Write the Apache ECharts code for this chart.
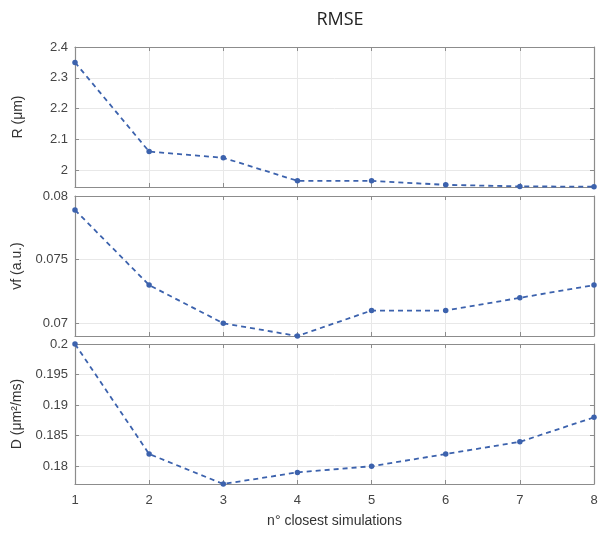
<!DOCTYPE html>
<html style="height: 100%">
<head>
	<meta charset="utf-8">
	<script src="https://cdn.jsdelivr.net/npm/echarts@6/dist/echarts.min.js"></script>
</head>
<body style="height: 100%; margin: 0; background: #fff">
<div id="container" style="width: 598px; height: 533px"></div>
<script type="text/javascript">
    var nClosest = [1, 2, 3, 4, 5, 6, 7, 8];
    var rmseR = [2.35, 2.06, 2.04, 1.965, 1.965, 1.952, 1.947, 1.946];
    var rmseVf = [0.0789, 0.073, 0.070, 0.0690, 0.071, 0.071, 0.072, 0.073];
    var rmseD = [0.2, 0.182, 0.1771, 0.179, 0.180, 0.182, 0.184, 0.188];
    var ticksR = [2, 2.1, 2.2, 2.3, 2.4];
    var ticksVf = [0.07, 0.075, 0.08];
    var ticksD = [0.18, 0.185, 0.19, 0.195, 0.2];

    var lineColor = '#3c62ad';
    var boxColor = '#8c8c8c';
    var textColor = '#444';

    var dom = document.getElementById("container");
    var myChart = echarts.init(dom);

    function pairs(ys) {
        return nClosest.map(function (x, i) { return [x, ys[i]]; });
    }

    var panels = [
        { name: 'R (μm)', data: rmseR, ticks: ticksR, min: 1.945, max: 2.4, top: 47 },
        { name: 'vf (a.u.)', data: rmseVf, ticks: ticksVf, min: 0.069, max: 0.08, top: 196 },
        { name: 'D (μm²/ms)', data: rmseD, ticks: ticksD, min: 0.1771, max: 0.2, top: 344 }
    ];

    var grid = [], xAxis = [], yAxis = [], series = [];
    panels.forEach(function (p, i) {
        var last = i === panels.length - 1;
        grid.push({ left: 75, right: 4, top: p.top, height: 140, outerBoundsMode: 'none', containLabel: false });
        // bottom x axis
        xAxis.push({
            gridIndex: i, type: 'value', min: 1, max: 8, interval: 1,
            position: 'bottom',
            name: last ? 'n° closest simulations' : '',
            nameLocation: 'middle', nameGap: 30,
            nameTextStyle: { color: '#333', fontSize: 14, fontFamily: 'Liberation Sans' },
            axisLine: { onZero: false, lineStyle: { color: boxColor, width: 1.2 } },
            axisTick: { inside: true, length: 4, lineStyle: { color: boxColor } },
            axisLabel: { show: last, color: textColor, fontSize: 13, margin: 10, fontFamily: 'Liberation Sans' },
            splitLine: { show: true, lineStyle: { color: '#e8e8e8' } }
        });
        // top x axis (box + ticks)
        xAxis.push({
            gridIndex: i, type: 'value', min: 1, max: 8, interval: 1,
            position: 'top',
            axisLine: { onZero: false, lineStyle: { color: boxColor, width: 1.2 } },
            axisTick: { inside: true, length: 4, lineStyle: { color: boxColor } },
            axisLabel: { show: false },
            splitLine: { show: false }
        });
        yAxis.push({
            gridIndex: i, type: 'value', min: p.min, max: p.max,
            position: 'left',
            name: p.name, nameLocation: 'middle', nameGap: 50,
            nameTextStyle: { color: '#333', fontSize: 14, fontFamily: 'Liberation Sans' },
            axisLine: { show: true, onZero: false, lineStyle: { color: boxColor, width: 1.2 } },
            axisTick: { show: true, inside: true, length: 4, customValues: p.ticks, lineStyle: { color: boxColor } },
            axisLabel: { color: textColor, fontSize: 13, margin: 7, customValues: p.ticks, fontFamily: 'Liberation Sans' },
            splitLine: { show: true, lineStyle: { color: '#e8e8e8' } }
        });
        yAxis.push({
            gridIndex: i, type: 'value', min: p.min, max: p.max,
            position: 'right',
            axisLine: { show: true, onZero: false, lineStyle: { color: boxColor, width: 1.2 } },
            axisTick: { show: true, inside: true, length: 4, customValues: p.ticks, lineStyle: { color: boxColor } },
            axisLabel: { show: false },
            splitLine: { show: false }
        });
        series.push({
            type: 'line',
            xAxisIndex: i * 2, yAxisIndex: i * 2,
            data: pairs(p.data),
            symbol: 'circle', symbolSize: 5.5,
            itemStyle: { color: lineColor },
            lineStyle: { color: lineColor, width: 1.8, type: [5, 4] },
            clip: false
        });
    });

    var option = {
        backgroundColor: '#fff',
        animation: false,
        title: {
            text: 'RMSE', left: 335, top: 6, textAlign: 'center',
            textStyle: { fontSize: 18, fontWeight: 'normal', color: '#222', fontFamily: 'Open Sans' }
        },
        grid: grid,
        xAxis: xAxis,
        yAxis: yAxis,
        series: series
    };

    myChart.setOption(option, true);
</script>
</body>
</html>
